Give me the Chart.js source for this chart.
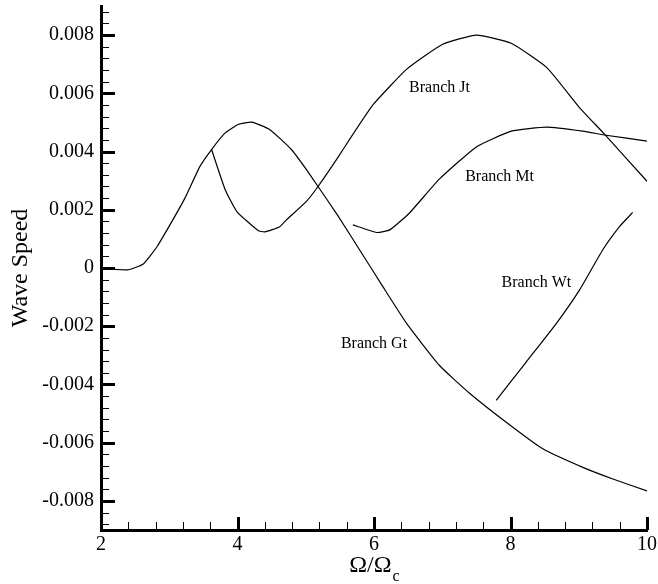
<!DOCTYPE html>
<html>
<head>
<meta charset="utf-8">
<script src="https://cdn.jsdelivr.net/npm/chart.js@4"></script>
<style>
  html, body { margin: 0; padding: 0; background: #fff; }
  #wrap { width: 658px; height: 584px; }
</style>
</head>
<body>
<div id="wrap"><canvas id="chart" width="658" height="584"></canvas></div>
<script>
// Wave speed versus frequency ratio, one pair of arrays per branch
const gtOmega = [2.0, 2.2, 2.4, 2.62, 2.82, 3.01, 3.23, 3.45, 3.62, 3.82, 4.01, 4.21, 4.47, 4.79, 5.01, 5.18, 5.47, 5.79, 6.13, 6.48, 6.96, 7.4, 8.0, 8.48, 9.06, 9.5, 10.0];
const gtSpeed = [0, -0.00005, -0.00006, 0.00014, 0.00073, 0.00148, 0.0024, 0.00349, 0.00407, 0.00464, 0.00493, 0.00501, 0.00476, 0.00407, 0.00338, 0.0028, 0.0018, 0.00062, -0.00064, -0.00191, -0.00335, -0.0043, -0.00541, -0.00622, -0.00685, -0.00725, -0.00766];

const jtOmega = [3.62, 3.82, 3.99, 4.30, 4.40, 4.62, 4.72, 5.01, 5.18, 5.45, 5.69, 5.99, 6.48, 7.0, 7.5, 8.01, 8.53, 9.01, 9.38, 10.0];
const jtSpeed = [0.00407, 0.00269, 0.00194, 0.00129, 0.00124, 0.00142, 0.00166, 0.00229, 0.0028, 0.00372, 0.00459, 0.00562, 0.00683, 0.00768, 0.008, 0.00772, 0.00689, 0.00551, 0.00459, 0.00298];

const mtOmega = [5.69, 6.04, 6.23, 6.52, 6.96, 7.5, 8.01, 8.53, 9.06, 9.4, 10.0];
const mtSpeed = [0.00148, 0.00122, 0.00131, 0.00189, 0.00306, 0.00416, 0.0047, 0.00484, 0.0047, 0.00456, 0.00436];

const wtOmega = [7.79, 8.23, 8.67, 9.01, 9.35, 9.6, 9.79];
const wtSpeed = [-0.00455, -0.00323, -0.00191, -0.00076, 0.00062, 0.00143, 0.00191];

// Axis ticks and their labels
const xTickValues = [2, 4, 6, 8, 10];
const xTickLabels = ['2', '4', '6', '8', '10'];
const yTickValues = [-0.008, -0.006, -0.004, -0.002, 0, 0.002, 0.004, 0.006, 0.008];
const yTickLabels = ['-0.008', '-0.006', '-0.004', '-0.002', '0', '0.002', '0.004', '0.006', '0.008'];

// Branch names written beside the curves
const branchNames = ['Branch Gt', 'Branch Jt', 'Branch Mt', 'Branch Wt'];

const SERIF = '"Liberation Serif", "Times New Roman", serif';

function points(xs, ys) {
  return xs.map((v, i) => ({ x: v, y: ys[i] }));
}

function curve(label, xs, ys) {
  return {
    label,
    data: points(xs, ys),
    borderColor: '#000',
    borderWidth: 1.2,
    pointRadius: 0,
    tension: 0.15,
    fill: false
  };
}

// Anchor of each branch name, in axis units
const labelAnchors = {
  'Branch Gt': { x: 6.0, y: -0.00262 },
  'Branch Jt': { x: 6.96, y: 0.0062 },
  'Branch Mt': { x: 7.84, y: 0.00314 },
  'Branch Wt': { x: 8.38, y: -0.00052 }
};

// Inward major/minor ticks, branch names and the x-axis title with subscript
const decorations = {
  id: 'decorations',
  afterDatasetsDraw(chart) {
    const { ctx, chartArea, scales } = chart;
    const xs = scales.x, ys = scales.y;
    ctx.save();
    ctx.strokeStyle = '#000';
    ctx.lineCap = 'butt';

    const drawY = (v, len, w) => {
      const p = Math.round(ys.getPixelForValue(v)) + (w % 2 ? 0.5 : 0);
      ctx.lineWidth = w;
      ctx.beginPath();
      ctx.moveTo(chartArea.left, p);
      ctx.lineTo(chartArea.left + len, p);
      ctx.stroke();
    };
    const drawX = (v, len, w) => {
      const p = Math.round(xs.getPixelForValue(v)) + (w % 2 ? 0.5 : 0);
      ctx.lineWidth = w;
      ctx.beginPath();
      ctx.moveTo(p, chartArea.bottom);
      ctx.lineTo(p, chartArea.bottom - len);
      ctx.stroke();
    };

    // y: majors every 0.002, four minors between, plus ends of the range
    for (let k = -22; k <= 22; k++) {
      const v = k * 0.0004;
      if (k % 5 === 0) drawY(v, 14, 3);
      else drawY(v, 8, 1);
    }
    // x: majors every 2, four minors between
    for (let k = 0; k <= 20; k++) {
      const v = 2 + k * 0.4;
      if (k % 5 === 0) drawX(v, 13, 3);
      else drawX(v, 8, 1);
    }

    // branch names
    ctx.fillStyle = '#000';
    ctx.font = '16px ' + SERIF;
    ctx.textAlign = 'center';
    ctx.textBaseline = 'middle';
    branchNames.forEach(name => {
      const a = labelAnchors[name];
      ctx.fillText(name, xs.getPixelForValue(a.x), ys.getPixelForValue(a.y));
    });

    // x-axis title: Ω/Ω with subscript c
    const main = '\u03A9/\u03A9', sub = 'c';
    const mainFont = '24px ' + SERIF, subFont = '16px ' + SERIF;
    ctx.textAlign = 'left';
    ctx.textBaseline = 'alphabetic';
    ctx.font = mainFont;
    const wMain = ctx.measureText(main).width;
    ctx.font = subFont;
    const wSub = ctx.measureText(sub).width;
    const cx = (chartArea.left + chartArea.right) / 2;
    const x0 = cx - (wMain + wSub) / 2;
    const base = chartArea.bottom + 42;
    ctx.font = mainFont;
    ctx.fillText(main, x0, base);
    ctx.font = subFont;
    ctx.fillText(sub, x0 + wMain + 1, base + 9);
    ctx.restore();
  }
};

new Chart(document.getElementById('chart'), {
  type: 'line',
  data: {
    datasets: [
      curve('Branch Gt', gtOmega, gtSpeed),
      curve('Branch Jt', jtOmega, jtSpeed),
      curve('Branch Mt', mtOmega, mtSpeed),
      curve('Branch Wt', wtOmega, wtSpeed)
    ]
  },
  options: {
    responsive: false,
    devicePixelRatio: 1,
    animation: false,
    layout: { padding: { top: 6, right: 11, left: 0, bottom: 0 } },
    plugins: { legend: { display: false }, tooltip: { enabled: false } },
    scales: {
      x: {
        type: 'linear',
        min: 2,
        max: 10,
        grid: { display: false, drawTicks: false },
        border: { display: true, color: '#000', width: 3 },
        afterBuildTicks: s => { s.ticks = xTickValues.map(v => ({ value: v })); },
        afterFit: s => { s.height = 54; s.paddingLeft = 0; s.paddingRight = 0; },
        ticks: {
          autoSkip: false,
          maxRotation: 0,
          padding: 3,
          color: '#000',
          font: { family: SERIF, size: 20 },
          callback: (v, i) => xTickLabels[i]
        }
      },
      y: {
        type: 'linear',
        min: -0.009,
        max: 0.009,
        grid: { display: false, drawTicks: false },
        border: { display: true, color: '#000', width: 3 },
        afterBuildTicks: s => { s.ticks = yTickValues.map(v => ({ value: v })); },
        afterFit: s => { s.width = 101; s.paddingTop = 0; s.paddingBottom = 0; },
        title: {
          display: true,
          text: 'Wave Speed',
          color: '#000',
          font: { family: SERIF, size: 24 },
          padding: { top: 6, bottom: 0 }
        },
        ticks: {
          autoSkip: false,
          padding: 7,
          color: '#000',
          font: { family: SERIF, size: 20 },
          callback: (v, i) => yTickLabels[i]
        }
      }
    }
  },
  plugins: [decorations]
});
</script>
</body>
</html>
